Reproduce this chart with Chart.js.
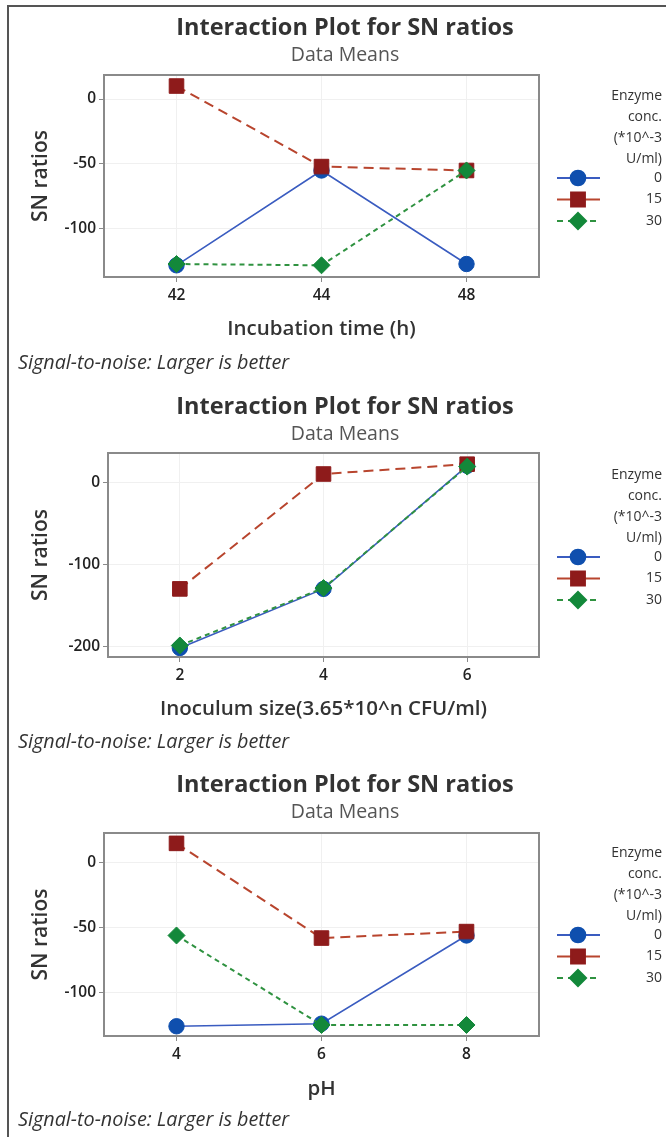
<!DOCTYPE html>
<html><head><meta charset="utf-8">
<script src="https://cdn.jsdelivr.net/npm/chart.js@4/dist/chart.umd.min.js"></script>
<style>
html,body{margin:0;padding:0;background:#fff;}
body{width:666px;height:1137px;position:relative;overflow:hidden;}
#frame{position:absolute;left:7px;top:5px;width:700px;height:1200px;border-left:2px solid #555;border-top:2px solid #555;}
.panel{position:absolute;left:0;width:666px;height:380px;}
canvas{display:block;}
</style></head><body>
<div id="frame"></div>
<div class="panel" style="top:0px"><canvas id="c1" width="666" height="380"></canvas></div>
<div class="panel" style="top:379px"><canvas id="c2" width="666" height="380"></canvas></div>
<div class="panel" style="top:757px"><canvas id="c3" width="666" height="380"></canvas></div>
<script>
// ---- data ----
const chartTitle = 'Interaction Plot for SN ratios';
const chartSubtitle = 'Data Means';
const footnote = 'Signal-to-noise: Larger is better';
const yAxisTitle = 'SN ratios';
const legendTitle = ['Enzyme', 'conc.', '(*10^-3', 'U/ml)'];
const seriesLabels = ['0', '15', '30'];

const incubationCategories = ['42', '44', '48'];
const incubationEnzyme0 = [-128, -55, -127];
const incubationEnzyme15 = [10, -52, -55];
const incubationEnzyme30 = [-127, -128, -55];
const incubationTicks = [0, -50, -100];

const inoculumCategories = ['2', '4', '6'];
const inoculumEnzyme0 = [-202, -130, 20];
const inoculumEnzyme15 = [-130, 10, 22];
const inoculumEnzyme30 = [-199, -129, 19];
const inoculumTicks = [0, -100, -200];

const phCategories = ['4', '6', '8'];
const phEnzyme0 = [-126, -124, -56];
const phEnzyme15 = [15, -58, -53];
const phEnzyme30 = [-56, -125, -125];
const phTicks = [0, -50, -100];

// ---- styles ----
const FONT = '"Open Sans", "Noto Sans", sans-serif';
const seriesStyles = [
  {borderColor:'#3a5cc0', borderWidth:1.6, borderDash:[], legendDash:[], pointStyle:'circle', pointRadius:7.7, pointBackgroundColor:'#0f4fae', order:2},
  {borderColor:'#b8452e', borderWidth:2, borderDash:[10,6], legendDash:[], pointStyle:'rect', pointRadius:10.3, pointBackgroundColor:'#8e1b1b', order:1},
  {borderColor:'#2f9240', borderWidth:2, borderDash:[5,4], legendDash:[6,5], pointStyle:'rectRot', pointRadius:8.5, pointBackgroundColor:'#13883a', order:0}
];

const panelText = {
  id:'panelText',
  afterDraw(chart){
    const ctx = chart.ctx;
    ctx.save();
    ctx.fillStyle = '#333';
    ctx.textAlign = 'center'; ctx.textBaseline = 'middle';
    ctx.font = 'bold 23.5px ' + FONT;
    ctx.fillText(chartTitle, 345, 28);
    ctx.fillStyle = '#555';
    ctx.font = '19.5px ' + FONT;
    ctx.fillText(chartSubtitle, 345, 55);
    ctx.fillStyle = '#333';
    ctx.textAlign = 'left';
    ctx.font = 'italic 19.8px ' + FONT;
    ctx.fillText(footnote, 18, 363);
    // box
    const a = chart.chartArea;
    ctx.strokeStyle = '#8a8a8a'; ctx.lineWidth = 2;
    ctx.strokeRect(a.left, a.top, a.right - a.left, a.bottom - a.top);
    // legend
    ctx.font = '14px ' + FONT;
    ctx.fillStyle = '#333';
    ctx.textAlign = 'right';
    legendTitle.forEach((t, i) => ctx.fillText(t, 662, 96 + i * 21));
    chart.data.datasets.forEach((ds, i) => {
      const y = 178 + i * 21.5;
      ctx.save();
      ctx.strokeStyle = ds.borderColor; ctx.lineWidth = 2;
      ctx.setLineDash(ds.legendDash);
      ctx.beginPath(); ctx.moveTo(557, y); ctx.lineTo(600, y); ctx.stroke();
      ctx.restore();
      ctx.fillStyle = ds.pointBackgroundColor;
      ctx.strokeStyle = ds.pointBackgroundColor;
      Chart.helpers.drawPoint(ctx, {pointStyle: ds.pointStyle, radius: ds.pointRadius * 0.95, borderWidth: 1, rotation: 0}, 578, y);
      ctx.fillStyle = '#333';
      ctx.fillText(ds.label, 662, y);
    });
    ctx.restore();
  }
};

function makeChart(id, categories, s0, s1, s2, ticks, yMin, yMax, xTitle, geo){
  const values = [s0, s1, s2];
  const datasets = values.map((v, i) => Object.assign({
    label: seriesLabels[i], data: v, fill:false, tension:0,
    pointBorderColor: seriesStyles[i].pointBackgroundColor, pointBorderWidth:1,
    pointHoverRadius: seriesStyles[i].pointRadius
  }, seriesStyles[i]));
  return new Chart(document.getElementById(id), {
    type:'line',
    data:{labels:categories, datasets},
    plugins:[panelText],
    options:{
      responsive:false, animation:false, devicePixelRatio:1,
      layout:{padding:{left:0, top:geo.top, right:666 - 539, bottom:0}},
      plugins:{legend:{display:false}, tooltip:{enabled:false}},
      scales:{
        x:{
          type:'category', offset:true,
          grid:{offset:false, color:'#f0f0f0', lineWidth:1, tickLength:5, tickColor:'#8a8a8a'},
          border:{display:false},
          ticks:{color:'#222', padding:4, font:{family:FONT, size:15.5, weight:'600'}},
          title:{display:true, text:xTitle, color:'#333', font:{family:FONT, size:20.5, weight:'600'}, padding:{top:0, bottom:geo.xTitlePad}},
          afterFit(scale){ scale.height = 380 - geo.bottom; }
        },
        y:{
          min:yMin, max:yMax,
          afterBuildTicks(scale){ scale.ticks = ticks.map(v => ({value:v})); },
          grid:{color:'#f0f0f0', lineWidth:1, tickLength:5, tickColor:'#8a8a8a'},
          border:{display:false},
          ticks:{color:'#222', padding:3, font:{family:FONT, size:15.5, weight:'600'}},
          title:{display:true, text:yAxisTitle, color:'#333', font:{family:FONT, size:21, weight:'600'}, padding:{top:28, bottom:0}},
          afterFit(scale){ scale.width = geo.left; }
        }
      }
    }
  });
}

makeChart('c1', incubationCategories, incubationEnzyme0, incubationEnzyme15, incubationEnzyme30, incubationTicks, -137, 18.5, 'Incubation time (h)', {top:75, bottom:277, left:104, xTitlePad:39});
makeChart('c2', inoculumCategories, inoculumEnzyme0, inoculumEnzyme15, inoculumEnzyme30, inoculumTicks, -213, 35.6, 'Inoculum size(3.65*10^n CFU/ml)', {top:74, bottom:278, left:108, xTitlePad:38});
makeChart('c3', phCategories, phEnzyme0, phEnzyme15, phEnzyme30, phTicks, -133.5, 23, 'pH', {top:76, bottom:279, left:104, xTitlePad:36});
</script>
</body></html>
